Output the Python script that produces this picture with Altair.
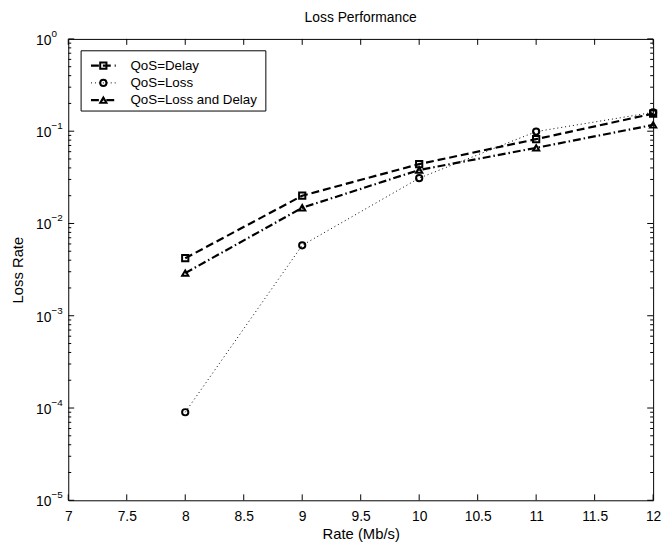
import altair as alt
import pandas as pd

# ---- data ----
rates = [8, 9, 10, 11, 12]
delay = [0.0042, 0.020, 0.044, 0.082, 0.155]
loss = [0.00009, 0.0058, 0.031, 0.099, 0.160]
loss_delay = [0.0029, 0.0148, 0.038, 0.066, 0.117]
series_names = ["QoS=Delay", "QoS=Loss", "QoS=Loss and Delay"]
x_ticks = [7, 7.5, 8, 8.5, 9, 9.5, 10, 10.5, 11, 11.5, 12]
y_exponents = [0, -1, -2, -3, -4, -5]
minor_mult = [2, 3, 4, 5, 6, 7, 8, 9]

W, H = 592, 467
FONT = "Liberation Sans"

styles = {
    "QoS=Delay": dict(dash=[8, 4], width=2.2, shape="square"),
    "QoS=Loss": dict(dash=[1, 3], width=1, shape="circle"),
    "QoS=Loss and Delay": dict(dash=[8, 3, 1.5, 3], width=2.2, shape="triangle-up"),
}
values = {"QoS=Delay": delay, "QoS=Loss": loss, "QoS=Loss and Delay": loss_delay}

xs = alt.Scale(domain=[7, 12], nice=False, zero=False)
ys = alt.Scale(type="log", domain=[1e-5, 1], nice=False)

layers = []

# tick data
ymaj = pd.DataFrame({"v": [10.0 ** e for e in y_exponents],
                     "exp": [("\u2212" + str(-e)) if e < 0 else str(e) for e in y_exponents]})
ymin = pd.DataFrame({"v": [m * 10.0 ** e for e in y_exponents[1:] for m in minor_mult]})
xmaj = pd.DataFrame({"v": x_ticks})

# base with axes
base_df = pd.DataFrame({"x": [7, 12], "y": [1e-5, 1]})
axes = alt.Chart(base_df).mark_point(opacity=0).encode(
    x=alt.X("x:Q", scale=xs, title="Rate (Mb/s)",
            axis=alt.Axis(values=x_ticks, format="~g", ticks=False, domain=False, grid=False,
                          labelFont=FONT, labelFontSize=14, labelColor="black", labelPadding=9,
                          titleFont=FONT, titleFontSize=15, titleFontWeight="normal",
                          titleColor="black", titlePadding=4, labelFlush=False)),
    y=alt.Y("y:Q", scale=ys, title="Loss Rate",
            axis=alt.Axis(labels=False, ticks=False, domain=False, grid=False,
                          titleFont=FONT, titleFontSize=15, titleFontWeight="normal",
                          titleColor="black", titlePadding=43)),
)
layers.append(axes)

# y ticks (inside, both sides)
for df, ln in [(ymaj, 6), (ymin, 3)]:
    layers.append(alt.Chart(df).mark_rule(color="black", strokeWidth=1).encode(
        y=alt.Y("v:Q", scale=ys), x=alt.value(0), x2=alt.value(ln)))
    layers.append(alt.Chart(df).mark_rule(color="black", strokeWidth=1).encode(
        y=alt.Y("v:Q", scale=ys), x=alt.value(W - ln), x2=alt.value(W)))
# x ticks (inside, top and bottom)
layers.append(alt.Chart(xmaj).mark_rule(color="black", strokeWidth=1).encode(
    x=alt.X("v:Q", scale=xs), y=alt.value(H - 6), y2=alt.value(H)))
layers.append(alt.Chart(xmaj).mark_rule(color="black", strokeWidth=1).encode(
    x=alt.X("v:Q", scale=xs), y=alt.value(0), y2=alt.value(6)))

# y tick labels 10^e
layers.append(alt.Chart(ymaj).mark_text(text="10", align="right", baseline="middle",
                                        font=FONT, fontSize=14, dy=2, color="black").encode(
    y=alt.Y("v:Q", scale=ys), x=alt.value(-17)))
layers.append(alt.Chart(ymaj).mark_text(align="left", baseline="middle",
                                        font=FONT, fontSize=10, dy=-5, color="black").encode(
    y=alt.Y("v:Q", scale=ys), x=alt.value(-17), text="exp:N"))

# data series
for name in series_names:
    st = styles[name]
    df = pd.DataFrame({"rate": rates, "val": values[name]})
    layers.append(alt.Chart(df).mark_line(color="black", strokeDash=st["dash"],
                                          strokeWidth=st["width"]).encode(
        x=alt.X("rate:Q", scale=xs), y=alt.Y("val:Q", scale=ys)))
    layers.append(alt.Chart(df).mark_point(shape=st["shape"], filled=False, color="black",
                                           strokeWidth=2, size=40, opacity=1).encode(
        x=alt.X("rate:Q", scale=xs), y=alt.Y("val:Q", scale=ys)))

# legend
layers.append(alt.Chart(pd.DataFrame({"a": [0]})).mark_rect(
    fill="white", stroke="black", strokeWidth=1).encode(
    x=alt.value(13), x2=alt.value(200), y=alt.value(12), y2=alt.value(73)))
for i, name in enumerate(series_names):
    st = styles[name]
    yy = 27 + i * 17.5
    one = pd.DataFrame({"name": [name]})
    layers.append(alt.Chart(one).mark_rule(color="black", strokeDash=st["dash"],
                                           strokeWidth=st["width"]).encode(
        x=alt.value(23), x2=alt.value(48), y=alt.value(yy)))
    layers.append(alt.Chart(one).mark_point(shape=st["shape"], filled=False, color="black",
                                            strokeWidth=2, size=40, opacity=1).encode(
        x=alt.value(35.5), y=alt.value(yy)))
    layers.append(alt.Chart(one).mark_text(align="left", baseline="middle", font=FONT,
                                           fontSize=13.5, color="black").encode(
        x=alt.value(63), y=alt.value(yy), text="name:N"))

chart = alt.layer(*layers).properties(
    width=W, height=H,
    title=alt.TitleParams("Loss Performance", font=FONT, fontSize=14, fontWeight="normal",
                          color="black", anchor="middle", offset=4),
    autosize=alt.AutoSizeParams(type="none"),
    padding={"left": 61, "top": 28, "right": 10, "bottom": 46},
).configure_view(stroke="black", strokeWidth=1)

chart.save("out.html", embed_options={"renderer": "svg", "actions": False})
